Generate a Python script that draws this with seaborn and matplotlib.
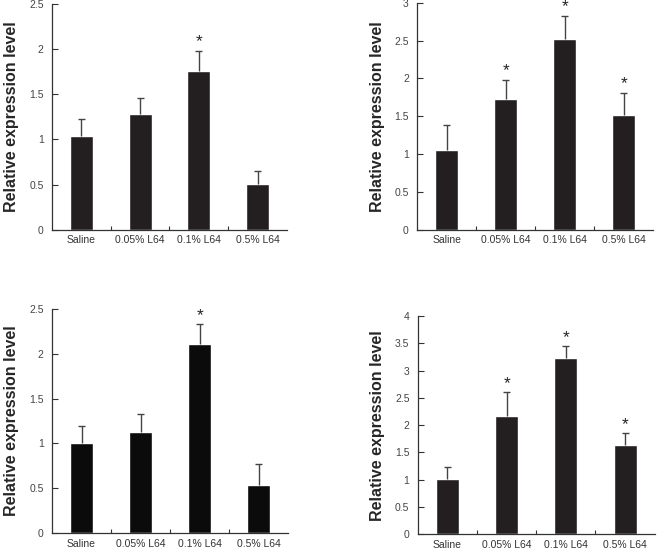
import numpy as np
import pandas as pd
import matplotlib
matplotlib.use("Agg")
import matplotlib.pyplot as plt
import seaborn as sns

sns.set_style("ticks")
plt.rcParams['font.family'] = ['Liberation Sans', 'DejaVu Sans']

groups = ['Saline', '0.05% L64', '0.1% L64', '0.5% L64']

# panel A (top left)
a_mean = [1.04, 1.28, 1.76, 0.51]
a_err = [0.19, 0.18, 0.22, 0.14]
a_star = [False, False, True, False]

# panel B (top right)
b_mean = [1.05, 1.73, 2.52, 1.52]
b_err = [0.33, 0.25, 0.31, 0.29]
b_star = [False, True, True, True]

# panel C (bottom left)
c_mean = [1.00, 1.13, 2.11, 0.54]
c_err = [0.20, 0.20, 0.22, 0.23]
c_star = [False, False, True, False]

# panel D (bottom right)
d_mean = [1.02, 2.17, 3.24, 1.63]
d_err = [0.21, 0.43, 0.21, 0.22]
d_star = [False, True, True, True]

panels = [
    (a_mean, a_err, a_star, 2.5, 0.5, '#231f20', [0.079, 0.582, 0.357, 0.411]),
    (b_mean, b_err, b_star, 3.0, 0.5, '#231f20', [0.634, 0.582, 0.359, 0.413]),
    (c_mean, c_err, c_star, 2.5, 0.5, '#0b0b0b', [0.079, 0.031, 0.359, 0.407]),
    (d_mean, d_err, d_star, 4.0, 0.5, '#231f20', [0.635, 0.029, 0.360, 0.396]),
]

fig = plt.figure(figsize=(6.58, 5.5), dpi=100)

for mean, err, star, ymax, step, color, rect in panels:
    ax = fig.add_axes(rect)
    df = pd.DataFrame({'group': groups, 'value': mean})
    sns.barplot(data=df, x='group', y='value', color=color, width=0.39,
                saturation=1, ax=ax)
    x = np.arange(len(groups))
    tops = np.array(mean) + np.array(err)
    # upper error bars only
    ax.vlines(x, mean, tops, color='#444444', lw=1, zorder=3)
    ax.hlines(tops, x - 0.06, x + 0.06, color='#444444', lw=1, zorder=3)
    for xi, t, s in zip(x, tops, star):
        if s:
            ax.annotate('*', (xi, t), xytext=(0, 1), textcoords='offset points',
                        ha='center', va='bottom', fontsize=12.5, color='#222222')
    ax.set_ylim(0, ymax)
    ax.set_xlim(-0.5, 3.5)
    ticks = np.arange(0, ymax + 0.01, step)
    ax.set_yticks(ticks)
    ax.set_yticklabels([f'{v:g}' for v in ticks])
    ax.set_xticks(x)
    ax.set_xticks([0.5, 1.5, 2.5], minor=True)
    ax.tick_params(axis='x', which='major', length=0, labelsize=7.5,
                   labelcolor='#333333', pad=4)
    ax.tick_params(axis='x', which='minor', direction='in', length=3,
                   color='#333333', width=0.8)
    ax.tick_params(axis='y', direction='in', length=4, width=0.8,
                   labelsize=7.5, labelcolor='#444444', color='#333333', pad=6)
    ax.set_xlabel('')
    ax.set_ylabel('Relative expression level', fontsize=11.5, fontweight='bold',
                  labelpad=7)
    for sp in ['left', 'bottom']:
        ax.spines[sp].set_color('#333333')
        ax.spines[sp].set_linewidth(0.9)
    sns.despine(ax=ax)

fig.savefig('out.png', dpi=100)
